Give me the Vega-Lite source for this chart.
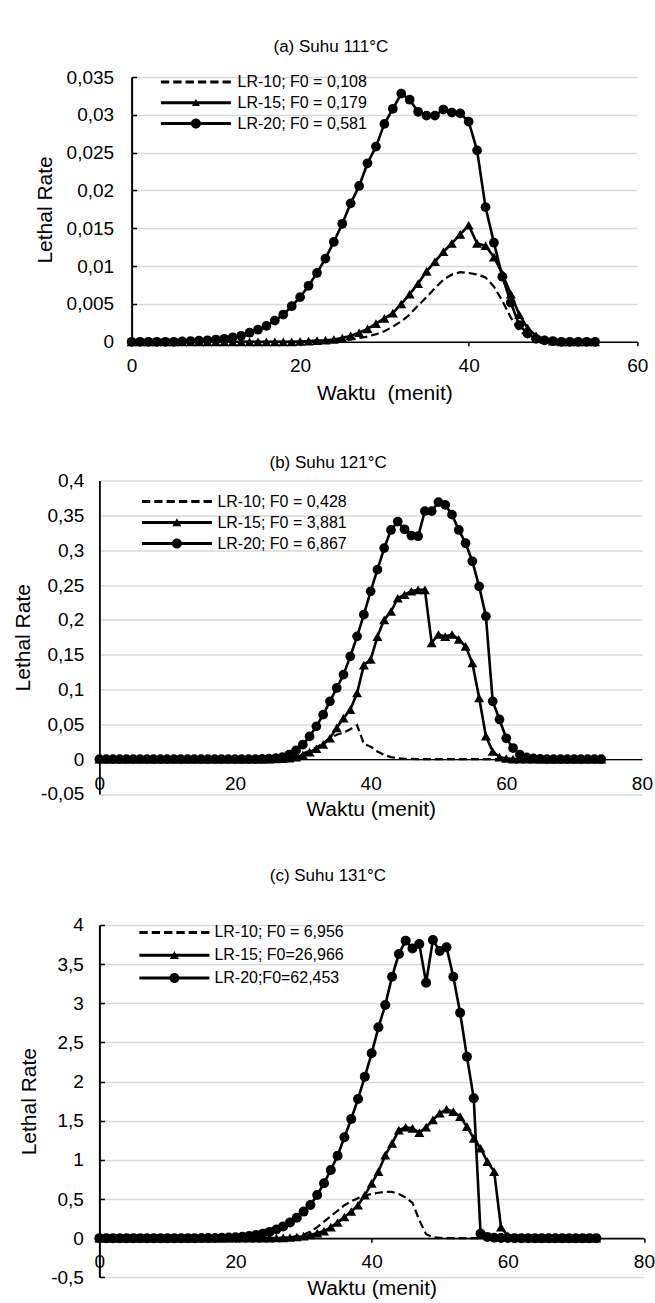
{
"$schema":"https://vega.github.io/schema/vega-lite/v6.json",
"background":"white",
"padding":{"left":11.4,"top":38,"right":0,"bottom":0},
"spacing":49.5,
"resolve":{"scale":{"shape":"independent","x":"independent","y":"independent"},"legend":{"shape":"independent"}},
"config":{
"font":"Liberation Sans",
"view":{"stroke":null},
"axis":{"labelFont":"Liberation Sans","labelFontSize":19,"labelColor":"black","titleFont":"Liberation Sans","titleFontSize":21,"titleFontWeight":"normal","titleColor":"black","domainColor":"black","gridColor":"#d9d9d9","gridWidth":1.3,"tickColor":"black","labelFlush":false,"labelOverlap":false},
"title":{"font":"Liberation Sans","fontSize":17,"fontWeight":"normal","color":"black","anchor":"middle","frame":"group"}
},
"datasets":{
"a10":[{"t":0,"v":0},{"t":1,"v":0},{"t":2,"v":0},{"t":3,"v":0},{"t":4,"v":0},{"t":5,"v":0},{"t":6,"v":0},{"t":7,"v":0},{"t":8,"v":0},{"t":9,"v":0},{"t":10,"v":0},{"t":11,"v":0},{"t":12,"v":0},{"t":13,"v":0},{"t":14,"v":0},{"t":15,"v":0},{"t":16,"v":0},{"t":17,"v":0},{"t":18,"v":0},{"t":19,"v":0},{"t":20,"v":0},{"t":21,"v":0},{"t":22,"v":0.00005},{"t":23,"v":0.0001},{"t":24,"v":0.00015},{"t":25,"v":0.0002},{"t":26,"v":0.0003},{"t":27,"v":0.0005},{"t":28,"v":0.0007},{"t":29,"v":0.001},{"t":30,"v":0.0014},{"t":31,"v":0.002},{"t":32,"v":0.0027},{"t":33,"v":0.0036},{"t":34,"v":0.0048},{"t":35,"v":0.0059},{"t":36,"v":0.0071},{"t":37,"v":0.0082},{"t":38,"v":0.0089},{"t":39,"v":0.0092},{"t":40,"v":0.0091},{"t":41,"v":0.0089},{"t":42,"v":0.0085},{"t":43,"v":0.0073},{"t":44,"v":0.0054},{"t":45,"v":0.0032},{"t":46,"v":0.0015},{"t":47,"v":0.0006},{"t":48,"v":0.0002},{"t":49,"v":0.0001},{"t":50,"v":0},{"t":51,"v":0},{"t":52,"v":0},{"t":53,"v":0},{"t":54,"v":0},{"t":55,"v":0}],
"a15":[{"t":0,"v":0},{"t":1,"v":0},{"t":2,"v":0},{"t":3,"v":0},{"t":4,"v":0},{"t":5,"v":0},{"t":6,"v":0},{"t":7,"v":0},{"t":8,"v":0},{"t":9,"v":0},{"t":10,"v":0},{"t":11,"v":0},{"t":12,"v":0},{"t":13,"v":0},{"t":14,"v":0},{"t":15,"v":0},{"t":16,"v":0},{"t":17,"v":0},{"t":18,"v":0},{"t":19,"v":0},{"t":20,"v":0.00005},{"t":21,"v":0.0001},{"t":22,"v":0.00015},{"t":23,"v":0.0002},{"t":24,"v":0.0003},{"t":25,"v":0.0005},{"t":26,"v":0.0008},{"t":27,"v":0.0012},{"t":28,"v":0.0017},{"t":29,"v":0.0024},{"t":30,"v":0.0031},{"t":31,"v":0.0038},{"t":32,"v":0.005},{"t":33,"v":0.0063},{"t":34,"v":0.0077},{"t":35,"v":0.0093},{"t":36,"v":0.0106},{"t":37,"v":0.0119},{"t":38,"v":0.013},{"t":39,"v":0.0142},{"t":40,"v":0.0154},{"t":41,"v":0.013},{"t":42,"v":0.0127},{"t":43,"v":0.0112},{"t":44,"v":0.009},{"t":45,"v":0.0063},{"t":46,"v":0.0036},{"t":47,"v":0.0018},{"t":48,"v":0.0008},{"t":49,"v":0.0003},{"t":50,"v":0.0001},{"t":51,"v":0},{"t":52,"v":0},{"t":53,"v":0},{"t":54,"v":0},{"t":55,"v":0}],
"a20":[{"t":0,"v":0},{"t":1,"v":0},{"t":2,"v":0},{"t":3,"v":0},{"t":4,"v":0},{"t":5,"v":0},{"t":6,"v":0.00005},{"t":7,"v":0.0001},{"t":8,"v":0.00015},{"t":9,"v":0.0002},{"t":10,"v":0.0003},{"t":11,"v":0.0004},{"t":12,"v":0.0006},{"t":13,"v":0.0008},{"t":14,"v":0.0012},{"t":15,"v":0.0016},{"t":16,"v":0.0021},{"t":17,"v":0.0028},{"t":18,"v":0.0036},{"t":19,"v":0.0047},{"t":20,"v":0.0059},{"t":21,"v":0.0074},{"t":22,"v":0.0091},{"t":23,"v":0.011},{"t":24,"v":0.0132},{"t":25,"v":0.0156},{"t":26,"v":0.0183},{"t":27,"v":0.0206},{"t":28,"v":0.0236},{"t":29,"v":0.0258},{"t":30,"v":0.0288},{"t":31,"v":0.0308},{"t":32,"v":0.0328},{"t":33,"v":0.032},{"t":34,"v":0.0304},{"t":35,"v":0.0299},{"t":36,"v":0.0299},{"t":37,"v":0.0307},{"t":38,"v":0.0303},{"t":39,"v":0.0302},{"t":40,"v":0.0291},{"t":41,"v":0.0253},{"t":42,"v":0.0178},{"t":43,"v":0.0131},{"t":44,"v":0.0086},{"t":45,"v":0.0052},{"t":46,"v":0.0022},{"t":47,"v":0.0011},{"t":48,"v":0.0004},{"t":49,"v":0.0002},{"t":50,"v":0.0001},{"t":51,"v":0},{"t":52,"v":0},{"t":53,"v":0},{"t":54,"v":0},{"t":55,"v":0}],
"b10":[{"t":0,"v":0},{"t":1,"v":0},{"t":2,"v":0},{"t":3,"v":0},{"t":4,"v":0},{"t":5,"v":0},{"t":6,"v":0},{"t":7,"v":0},{"t":8,"v":0},{"t":9,"v":0},{"t":10,"v":0},{"t":11,"v":0},{"t":12,"v":0},{"t":13,"v":0},{"t":14,"v":0},{"t":15,"v":0},{"t":16,"v":0},{"t":17,"v":0},{"t":18,"v":0},{"t":19,"v":0},{"t":20,"v":0},{"t":21,"v":0},{"t":22,"v":0},{"t":23,"v":0},{"t":24,"v":0.0001},{"t":25,"v":0.0003},{"t":26,"v":0.0007},{"t":27,"v":0.0015},{"t":28,"v":0.003},{"t":29,"v":0.005},{"t":30,"v":0.008},{"t":31,"v":0.012},{"t":32,"v":0.017},{"t":33,"v":0.023},{"t":34,"v":0.03},{"t":35,"v":0.035},{"t":36,"v":0.038},{"t":37,"v":0.043},{"t":38,"v":0.049},{"t":39,"v":0.022},{"t":40,"v":0.018},{"t":41,"v":0.011},{"t":42,"v":0.006},{"t":43,"v":0.003},{"t":44,"v":0.0013},{"t":45,"v":0.0006},{"t":46,"v":0.0003},{"t":47,"v":0.0001},{"t":48,"v":0},{"t":49,"v":0},{"t":50,"v":0},{"t":51,"v":0},{"t":52,"v":0},{"t":53,"v":0},{"t":54,"v":0},{"t":55,"v":0},{"t":56,"v":0},{"t":57,"v":0},{"t":58,"v":0},{"t":59,"v":0},{"t":60,"v":0},{"t":61,"v":0},{"t":62,"v":0},{"t":63,"v":0},{"t":64,"v":0},{"t":65,"v":0},{"t":66,"v":0},{"t":67,"v":0},{"t":68,"v":0},{"t":69,"v":0},{"t":70,"v":0},{"t":71,"v":0},{"t":72,"v":0},{"t":73,"v":0},{"t":74,"v":0}],
"b15":[{"t":0,"v":0},{"t":1,"v":0},{"t":2,"v":0},{"t":3,"v":0},{"t":4,"v":0},{"t":5,"v":0},{"t":6,"v":0},{"t":7,"v":0},{"t":8,"v":0},{"t":9,"v":0},{"t":10,"v":0},{"t":11,"v":0},{"t":12,"v":0},{"t":13,"v":0},{"t":14,"v":0},{"t":15,"v":0},{"t":16,"v":0},{"t":17,"v":0},{"t":18,"v":0},{"t":19,"v":0},{"t":20,"v":0},{"t":21,"v":0},{"t":22,"v":0},{"t":23,"v":0},{"t":24,"v":0},{"t":25,"v":0.0001},{"t":26,"v":0.0003},{"t":27,"v":0.0007},{"t":28,"v":0.0015},{"t":29,"v":0.003},{"t":30,"v":0.006},{"t":31,"v":0.01},{"t":32,"v":0.015},{"t":33,"v":0.021},{"t":34,"v":0.03},{"t":35,"v":0.045},{"t":36,"v":0.059},{"t":37,"v":0.071},{"t":38,"v":0.095},{"t":39,"v":0.135},{"t":40,"v":0.143},{"t":41,"v":0.176},{"t":42,"v":0.2},{"t":43,"v":0.212},{"t":44,"v":0.231},{"t":45,"v":0.236},{"t":46,"v":0.241},{"t":47,"v":0.243},{"t":48,"v":0.243},{"t":49,"v":0.167},{"t":50,"v":0.179},{"t":51,"v":0.176},{"t":52,"v":0.179},{"t":53,"v":0.172},{"t":54,"v":0.162},{"t":55,"v":0.138},{"t":56,"v":0.088},{"t":57,"v":0.033},{"t":58,"v":0.011},{"t":59,"v":0.003},{"t":60,"v":0.001},{"t":61,"v":0},{"t":62,"v":0},{"t":63,"v":0},{"t":64,"v":0},{"t":65,"v":0},{"t":66,"v":0},{"t":67,"v":0},{"t":68,"v":0},{"t":69,"v":0},{"t":70,"v":0},{"t":71,"v":0},{"t":72,"v":0},{"t":73,"v":0},{"t":74,"v":0}],
"b20":[{"t":0,"v":0},{"t":1,"v":0},{"t":2,"v":0},{"t":3,"v":0},{"t":4,"v":0},{"t":5,"v":0},{"t":6,"v":0},{"t":7,"v":0},{"t":8,"v":0},{"t":9,"v":0},{"t":10,"v":0},{"t":11,"v":0},{"t":12,"v":0},{"t":13,"v":0},{"t":14,"v":0},{"t":15,"v":0},{"t":16,"v":0},{"t":17,"v":0},{"t":18,"v":0},{"t":19,"v":0},{"t":20,"v":0},{"t":21,"v":0},{"t":22,"v":0},{"t":23,"v":0.0001},{"t":24,"v":0.0003},{"t":25,"v":0.0007},{"t":26,"v":0.0015},{"t":27,"v":0.003},{"t":28,"v":0.0065},{"t":29,"v":0.0126},{"t":30,"v":0.0208},{"t":31,"v":0.0327},{"t":32,"v":0.0471},{"t":33,"v":0.0639},{"t":34,"v":0.083},{"t":35,"v":0.1022},{"t":36,"v":0.1213},{"t":37,"v":0.1476},{"t":38,"v":0.1763},{"t":39,"v":0.2074},{"t":40,"v":0.2409},{"t":41,"v":0.272},{"t":42,"v":0.303},{"t":43,"v":0.329},{"t":44,"v":0.341},{"t":45,"v":0.33},{"t":46,"v":0.321},{"t":47,"v":0.32},{"t":48,"v":0.356},{"t":49,"v":0.356},{"t":50,"v":0.369},{"t":51,"v":0.365},{"t":52,"v":0.351},{"t":53,"v":0.329},{"t":54,"v":0.31},{"t":55,"v":0.284},{"t":56,"v":0.248},{"t":57,"v":0.205},{"t":58,"v":0.083},{"t":59,"v":0.057},{"t":60,"v":0.03},{"t":61,"v":0.016},{"t":62,"v":0.0065},{"t":63,"v":0.0025},{"t":64,"v":0.001},{"t":65,"v":0.0004},{"t":66,"v":0},{"t":67,"v":0},{"t":68,"v":0},{"t":69,"v":0},{"t":70,"v":0},{"t":71,"v":0},{"t":72,"v":0},{"t":73,"v":0},{"t":74,"v":0}],
"c10":[{"t":0,"v":0},{"t":1,"v":0},{"t":2,"v":0},{"t":3,"v":0},{"t":4,"v":0},{"t":5,"v":0},{"t":6,"v":0},{"t":7,"v":0},{"t":8,"v":0},{"t":9,"v":0},{"t":10,"v":0},{"t":11,"v":0},{"t":12,"v":0},{"t":13,"v":0},{"t":14,"v":0},{"t":15,"v":0},{"t":16,"v":0},{"t":17,"v":0},{"t":18,"v":0},{"t":19,"v":0},{"t":20,"v":0},{"t":21,"v":0},{"t":22,"v":0},{"t":23,"v":0},{"t":24,"v":0},{"t":25,"v":0.001},{"t":26,"v":0.002},{"t":27,"v":0.004},{"t":28,"v":0.01},{"t":29,"v":0.025},{"t":30,"v":0.045},{"t":31,"v":0.085},{"t":32,"v":0.14},{"t":33,"v":0.21},{"t":34,"v":0.28},{"t":35,"v":0.35},{"t":36,"v":0.42},{"t":37,"v":0.47},{"t":38,"v":0.51},{"t":39,"v":0.545},{"t":40,"v":0.565},{"t":41,"v":0.58},{"t":42,"v":0.592},{"t":43,"v":0.59},{"t":44,"v":0.565},{"t":45,"v":0.52},{"t":46,"v":0.45},{"t":47,"v":0.23},{"t":48,"v":0.05},{"t":49,"v":0.012},{"t":50,"v":0.004},{"t":51,"v":0.001},{"t":52,"v":0},{"t":53,"v":0},{"t":54,"v":0},{"t":55,"v":0},{"t":56,"v":0},{"t":57,"v":0},{"t":58,"v":0},{"t":59,"v":0},{"t":60,"v":0},{"t":61,"v":0},{"t":62,"v":0},{"t":63,"v":0},{"t":64,"v":0},{"t":65,"v":0},{"t":66,"v":0},{"t":67,"v":0},{"t":68,"v":0},{"t":69,"v":0},{"t":70,"v":0},{"t":71,"v":0},{"t":72,"v":0},{"t":73,"v":0}],
"c15":[{"t":0,"v":0},{"t":1,"v":0},{"t":2,"v":0},{"t":3,"v":0},{"t":4,"v":0},{"t":5,"v":0},{"t":6,"v":0},{"t":7,"v":0},{"t":8,"v":0},{"t":9,"v":0},{"t":10,"v":0},{"t":11,"v":0},{"t":12,"v":0},{"t":13,"v":0},{"t":14,"v":0},{"t":15,"v":0},{"t":16,"v":0},{"t":17,"v":0},{"t":18,"v":0},{"t":19,"v":0},{"t":20,"v":0},{"t":21,"v":0},{"t":22,"v":0},{"t":23,"v":0},{"t":24,"v":0},{"t":25,"v":0.001},{"t":26,"v":0.002},{"t":27,"v":0.004},{"t":28,"v":0.008},{"t":29,"v":0.015},{"t":30,"v":0.025},{"t":31,"v":0.04},{"t":32,"v":0.065},{"t":33,"v":0.09},{"t":34,"v":0.14},{"t":35,"v":0.2},{"t":36,"v":0.27},{"t":37,"v":0.34},{"t":38,"v":0.42},{"t":39,"v":0.55},{"t":40,"v":0.7},{"t":41,"v":0.85},{"t":42,"v":1.06},{"t":43,"v":1.21},{"t":44,"v":1.38},{"t":45,"v":1.416},{"t":46,"v":1.403},{"t":47,"v":1.348},{"t":48,"v":1.416},{"t":49,"v":1.51},{"t":50,"v":1.595},{"t":51,"v":1.646},{"t":52,"v":1.616},{"t":53,"v":1.552},{"t":54,"v":1.424},{"t":55,"v":1.275},{"t":56,"v":1.148},{"t":57,"v":0.977},{"t":58,"v":0.85},{"t":59,"v":0.14},{"t":60,"v":0.03},{"t":61,"v":0.01},{"t":62,"v":0.004},{"t":63,"v":0.002},{"t":64,"v":0.001},{"t":65,"v":0},{"t":66,"v":0},{"t":67,"v":0},{"t":68,"v":0},{"t":69,"v":0},{"t":70,"v":0},{"t":71,"v":0},{"t":72,"v":0},{"t":73,"v":0}],
"c20":[{"t":0,"v":0},{"t":1,"v":0},{"t":2,"v":0},{"t":3,"v":0},{"t":4,"v":0},{"t":5,"v":0},{"t":6,"v":0},{"t":7,"v":0},{"t":8,"v":0},{"t":9,"v":0},{"t":10,"v":0},{"t":11,"v":0},{"t":12,"v":0},{"t":13,"v":0},{"t":14,"v":0},{"t":15,"v":0.001},{"t":16,"v":0.002},{"t":17,"v":0.003},{"t":18,"v":0.005},{"t":19,"v":0.008},{"t":20,"v":0.012},{"t":21,"v":0.018},{"t":22,"v":0.027},{"t":23,"v":0.04},{"t":24,"v":0.057},{"t":25,"v":0.08},{"t":26,"v":0.11},{"t":27,"v":0.15},{"t":28,"v":0.2},{"t":29,"v":0.26},{"t":30,"v":0.339},{"t":31,"v":0.424},{"t":32,"v":0.552},{"t":33,"v":0.701},{"t":34,"v":0.871},{"t":35,"v":1.054},{"t":36,"v":1.288},{"t":37,"v":1.522},{"t":38,"v":1.778},{"t":39,"v":2.063},{"t":40,"v":2.361},{"t":41,"v":2.693},{"t":42,"v":2.978},{"t":43,"v":3.34},{"t":44,"v":3.63},{"t":45,"v":3.8},{"t":46,"v":3.7},{"t":47,"v":3.757},{"t":48,"v":3.263},{"t":49,"v":3.808},{"t":50,"v":3.668},{"t":51,"v":3.715},{"t":52,"v":3.34},{"t":53,"v":2.88},{"t":54,"v":2.318},{"t":55,"v":1.786},{"t":56,"v":0.06},{"t":57,"v":0.015},{"t":58,"v":0.005},{"t":59,"v":0.002},{"t":60,"v":0.001},{"t":61,"v":0},{"t":62,"v":0},{"t":63,"v":0},{"t":64,"v":0},{"t":65,"v":0},{"t":66,"v":0},{"t":67,"v":0},{"t":68,"v":0},{"t":69,"v":0},{"t":70,"v":0},{"t":71,"v":0},{"t":72,"v":0},{"t":73,"v":0}],
"legA":[{"s":"LR-10; F0 = 0,108"},{"s":"LR-15; F0 = 0,179"},{"s":"LR-20; F0 = 0,581"}],
"legB":[{"s":"LR-10; F0 = 0,428"},{"s":"LR-15; F0 = 3,881"},{"s":"LR-20; F0 = 6,867"}],
"legC":[{"s":"LR-10; F0 = 6,956"},{"s":"LR-15; F0=26,966"},{"s":"LR-20;F0=62,453"}]
},
"vconcat":[
{
"width":537.8,"height":264.8,
"title":{"text":"(a) Suhu 111°C","dx":-37.4,"offset":12},
"encoding":{
"x":{"field":"t","type":"quantitative","scale":{"domain":[0,60],"range":[32.2,537.8],"nice":false,"zero":false},"axis":{"values":[0,20,40,60],"title":"Waktu\u00a0 (menit)","grid":false,"ticks":true,"tickSize":4,"tickWidth":1.5,"domainWidth":1.5,"labelPadding":11,"titlePadding":7}},
"y":{"field":"v","type":"quantitative","scale":{"domain":[0,0.035],"nice":false,"zero":false},"axis":{"values":[0,0.005,0.01,0.015,0.02,0.025,0.03,0.035],"offset":-32.2,"title":"Lethal Rate","titleX":-76.3,"titleBaseline":"bottom","titleAngle":270,"titleAlign":"center","grid":true,"ticks":true,"tickSize":-5,"tickWidth":1.5,"domainWidth":2,"labelPadding":23,"labelExpr":"(datum.value < 0 ? '-' : '') + replace(format(abs(datum.value), ''), '.', ',')"}}
},
"layer":[
{"data":{"name":"a10"},"mark":{"type":"line","color":"black","strokeWidth":2.2,"strokeDash":[8,4]}},
{"data":{"name":"a15"},"mark":{"type":"line","color":"black","strokeWidth":2.6,"strokeJoin":"round"}},
{"data":{"name":"a15"},"mark":{"type":"point","shape":"triangle-up","filled":true,"color":"black","size":100,"opacity":1}},
{"data":{"name":"a20"},"mark":{"type":"line","color":"black","strokeWidth":2.6,"strokeJoin":"round"}},
{"data":{"name":"a20"},"mark":{"type":"point","shape":"circle","filled":true,"color":"black","size":95,"opacity":1}},
{"data":{"name":"legA"},"mark":{"type":"point","filled":true,"color":"black"},
"encoding":{
"shape":{"field":"s","type":"nominal","scale":{"domain":["LR-10; F0 = 0,108","LR-15; F0 = 0,179","LR-20; F0 = 0,581"],"range":["M-7,-0.3H-5.33V0.3H-7Z M-4.53,-0.3H-2.87V0.3H-4.53Z M-2.07,-0.3H-0.4V0.3H-2.07Z M0.4,-0.3H2.07V0.3H0.4Z M2.87,-0.3H4.53V0.3H2.87Z M5.33,-0.3H7V0.3H5.33Z","M-7,-0.3H7V0.3H-7Z M-0.8,0.65L0,-0.75L0.8,0.65Z","M-7,-0.3H7V0.3H-7Z M1,0A1,1 0 1,1 -1,0A1,1 0 1,1 1,0Z"]},
"legend":{"title":null,"orient":"none","legendX":88.5,"legendY":-3,"padding":0,"labelFont":"Liberation Sans","labelFontSize":16,"labelColor":"black","labelLimit":400,"labelOffset":33.7,"rowPadding":4.8,"symbolSize":100,"symbolOpacity":1,"symbolFillColor":"black","symbolStrokeColor":"black","symbolStrokeWidth":0}}}}
]
},
{
"spacing":47.5,
"resolve":{"scale":{"shape":"independent","x":"independent","y":"independent"},"legend":{"shape":"independent"}},
"vconcat":[
{
"width":542.5,"height":313.5,
"title":{"text":"(b) Suhu 121°C","dx":-42.5,"offset":0},
"encoding":{
"x":{"field":"t","type":"quantitative","scale":{"domain":[0,80],"nice":false,"zero":false},"axis":{"values":[0,20,40,60,80],"title":"Waktu (menit)","grid":false,"ticks":false,"tickSize":0,"domainWidth":1.4,"offset":-34.83,"labelPadding":15,"titlePadding":5}},
"y":{"field":"v","type":"quantitative","scale":{"domain":[-0.05,0.4],"nice":false,"zero":false},"axis":{"values":[-0.05,0,0.05,0.1,0.15,0.2,0.25,0.3,0.35,0.4],"title":"Lethal Rate","titleX":-66.1,"titleBaseline":"bottom","titleAngle":270,"titleAlign":"center","grid":true,"ticks":false,"tickSize":0,"domainWidth":1.8,"labelPadding":15.5,"labelExpr":"(datum.value < 0 ? '-' : '') + replace(format(abs(datum.value), ''), '.', ',')"}}
},
"layer":[
{"data":{"name":"b10"},"mark":{"type":"line","color":"black","strokeWidth":2.2,"strokeDash":[8,4]}},
{"data":{"name":"b15"},"mark":{"type":"line","color":"black","strokeWidth":2.6,"strokeJoin":"round"}},
{"data":{"name":"b15"},"mark":{"type":"point","shape":"triangle-up","filled":true,"color":"black","size":100,"opacity":1}},
{"data":{"name":"b20"},"mark":{"type":"line","color":"black","strokeWidth":2.6,"strokeJoin":"round"}},
{"data":{"name":"b20"},"mark":{"type":"point","shape":"circle","filled":true,"color":"black","size":95,"opacity":1}},
{"data":{"name":"legB"},"mark":{"type":"point","filled":true,"color":"black"},
"encoding":{
"shape":{"field":"s","type":"nominal","scale":{"domain":["LR-10; F0 = 0,428","LR-15; F0 = 3,881","LR-20; F0 = 6,867"],"range":["M-7,-0.3H-5.33V0.3H-7Z M-4.53,-0.3H-2.87V0.3H-4.53Z M-2.07,-0.3H-0.4V0.3H-2.07Z M0.4,-0.3H2.07V0.3H0.4Z M2.87,-0.3H4.53V0.3H2.87Z M5.33,-0.3H7V0.3H5.33Z","M-7,-0.3H7V0.3H-7Z M-0.9,0.75L0,-0.85L0.9,0.75Z","M-7,-0.3H7V0.3H-7Z M1,0A1,1 0 1,1 -1,0A1,1 0 1,1 1,0Z"]},
"legend":{"title":null,"orient":"none","legendX":69.5,"legendY":13.1,"padding":0,"labelFont":"Liberation Sans","labelFontSize":16,"labelColor":"black","labelLimit":400,"labelOffset":32.5,"rowPadding":5,"symbolSize":100,"symbolOpacity":1,"symbolFillColor":"black","symbolStrokeColor":"black","symbolStrokeWidth":0}}}}
]
},
{
"width":544.5,"height":352.3,
"title":{"text":"(c) Suhu 131°C","dx":-43.75,"offset":31},
"encoding":{
"x":{"field":"t","type":"quantitative","scale":{"domain":[0,80],"nice":false,"zero":false},"axis":{"values":[0,20,40,60,80],"title":"Waktu (menit)","grid":false,"ticks":true,"tickSize":4,"tickWidth":1.5,"domainWidth":1.6,"offset":-39.15,"labelPadding":10,"titlePadding":6}},
"y":{"field":"v","type":"quantitative","scale":{"domain":[-0.5,4],"nice":false,"zero":false},"axis":{"values":[-0.5,0,0.5,1,1.5,2,2.5,3,3.5,4],"title":"Lethal Rate","titleX":-60.1,"titleBaseline":"bottom","titleAngle":270,"titleAlign":"center","grid":true,"ticks":true,"tickSize":-5,"tickWidth":1.5,"domainWidth":2,"labelPadding":21,"labelExpr":"(datum.value < 0 ? '-' : '') + replace(format(abs(datum.value), ''), '.', ',')"}}
},
"layer":[
{"data":{"name":"c10"},"mark":{"type":"line","color":"black","strokeWidth":2.2,"strokeDash":[8,4]}},
{"data":{"name":"c15"},"mark":{"type":"line","color":"black","strokeWidth":2.6,"strokeJoin":"round"}},
{"data":{"name":"c15"},"mark":{"type":"point","shape":"triangle-up","filled":true,"color":"black","size":100,"opacity":1}},
{"data":{"name":"c20"},"mark":{"type":"line","color":"black","strokeWidth":2.6,"strokeJoin":"round"}},
{"data":{"name":"c20"},"mark":{"type":"point","shape":"circle","filled":true,"color":"black","size":100,"opacity":1}},
{"data":{"name":"legC"},"mark":{"type":"point","filled":true,"color":"black"},
"encoding":{
"shape":{"field":"s","type":"nominal","scale":{"domain":["LR-10; F0 = 6,956","LR-15; F0=26,966","LR-20;F0=62,453"],"range":["M-7,-0.3H-5.33V0.3H-7Z M-4.53,-0.3H-2.87V0.3H-4.53Z M-2.07,-0.3H-0.4V0.3H-2.07Z M0.4,-0.3H2.07V0.3H0.4Z M2.87,-0.3H4.53V0.3H2.87Z M5.33,-0.3H7V0.3H5.33Z","M-7,-0.3H7V0.3H-7Z M-0.9,0.75L0,-0.85L0.9,0.75Z","M-7,-0.3H7V0.3H-7Z M1,0A1,1 0 1,1 -1,0A1,1 0 1,1 1,0Z"]},
"legend":{"title":null,"orient":"none","legendX":67,"legendY":-0.6,"padding":0,"labelFont":"Liberation Sans","labelFontSize":16,"labelColor":"black","labelLimit":400,"labelOffset":32,"rowPadding":6.8,"symbolSize":100,"symbolOpacity":1,"symbolFillColor":"black","symbolStrokeColor":"black","symbolStrokeWidth":0}}}}
]
}
]
}
]
}
